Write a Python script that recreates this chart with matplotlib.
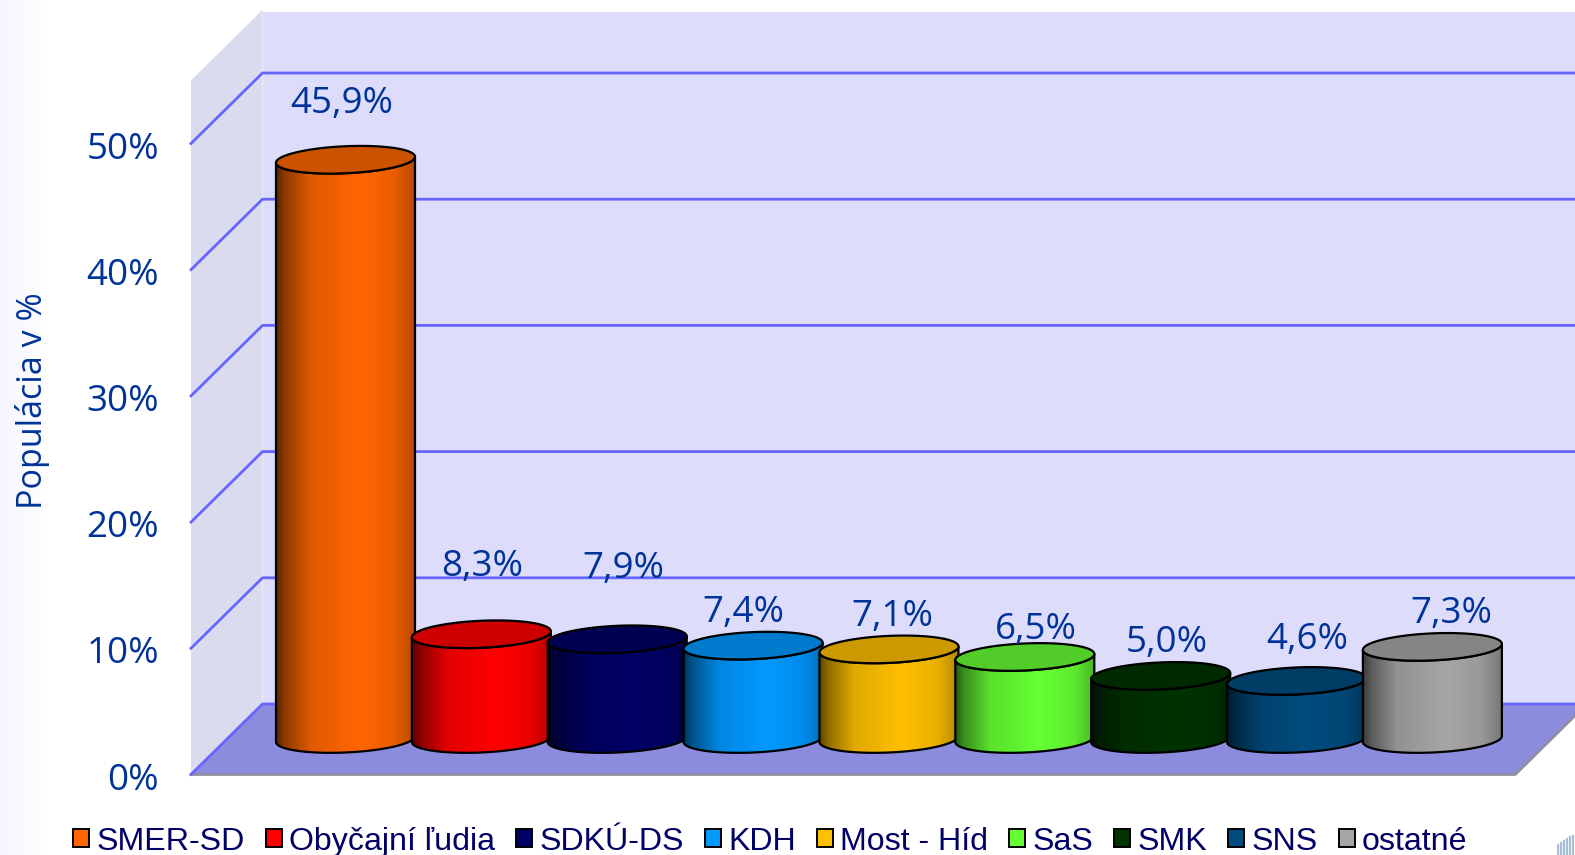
import numpy as np
import matplotlib
matplotlib.use('Agg')
import matplotlib.pyplot as plt
from matplotlib.patches import Patch, Polygon
from matplotlib.colors import to_rgb
from matplotlib.transforms import ScaledTranslation

parties = ['SMER-SD', 'Obyčajní ľudia', 'SDKÚ-DS', 'KDH', 'Most - Híd', 'SaS', 'SMK', 'SNS', 'ostatné']
values = [45.9, 8.3, 7.9, 7.4, 7.1, 6.5, 5.0, 4.6, 7.3]
value_labels = ['45,9%', '8,3%', '7,9%', '7,4%', '7,1%', '6,5%', '5,0%', '4,6%', '7,3%']
colors = ['#FF6600', '#FF0000', '#000066', '#0099FF', '#FFC000', '#66FF33', '#003300', '#004C7F', '#A6A6A6']
y_ticks = [0, 10, 20, 30, 40, 50]
y_tick_labels = ['0%', '10%', '20%', '30%', '40%', '50%']
y_title = 'Populácia v %'

W, H = 1575, 855
DARK_BLUE = '#003399'
GRID = '#6666FF'

# pixel layout of the plot box, figure is 1 data px = 1 real px at dpi 100
left_px, right_px = 191, 1575
zero_px, top_px = 774.5, 12
cat0_px, cat_px = 345.5, 135.86
pct_px = 12.62

fig = plt.figure(figsize=(W / 100, H / 100), dpi=100, facecolor='white')

# faint lavender fade at the left edge
fade = np.ones((H, 50, 3))
fade[:, :, 0] = fade[:, :, 1] = np.linspace(0.962, 1.0, 50)
fig.figimage(fade, 0, 0, zorder=-1)

ax = fig.add_axes([left_px / W, 1 - zero_px / H, (right_px - left_px) / W, (zero_px - top_px) / H])
ax.patch.set_visible(False)
ax.set_xlim((left_px - cat0_px) / cat_px, (right_px - cat0_px) / cat_px)
ax.set_ylim(0, (zero_px - top_px) / pct_px)
for s in ax.spines.values():
    s.set_visible(False)

x0, x1 = ax.get_xlim()
dx = 71.5 / cat_px    # depth of the box
dy = 70.5 / pct_px
wall_top = 55
floor_right = 8.61

ax.add_patch(Polygon([(x0, 0), (x0 + dx, dy), (x0 + dx, wall_top + dy), (x0, wall_top)],
                     fc='#DBDBF0', ec='none', zorder=1, clip_on=False))
ax.add_patch(Polygon([(x0 + dx, dy), (x1, dy), (x1, wall_top + dy), (x0 + dx, wall_top + dy)],
                     fc='#DDDDFB', ec='none', zorder=1))
ax.add_patch(Polygon([(x0, 0), (x0 + dx, dy), (floor_right + dx, dy), (floor_right, 0)],
                     fc='#8C8CDF', ec='none', zorder=2, clip_on=False))
ax.plot([x0, floor_right, floor_right + dx], [0, 0, dy], color='#8F8F9F', lw=2, zorder=2, clip_on=False)

for t in y_ticks:
    ax.plot([x0, x0 + dx, x1], [t, t + dy, t + dy], color=GRID, lw=2, zorder=3, clip_on=False)

ax.set_xticks([])
ax.set_yticks(y_ticks)
ax.set_yticklabels(y_tick_labels, fontsize=26.5, color=DARK_BLUE, family='Open Sans')
ax.tick_params(axis='y', length=0, pad=23)
for lab in ax.get_yticklabels():
    lab.set_transform(lab.get_transform() + ScaledTranslation(0, -1.5 / 100, fig.dpi_scale_trans))
ax.set_ylabel(y_title, fontsize=24.5, color=DARK_BLUE, family='Open Sans', va='center')
ax.yaxis.set_label_coords((33 - left_px) / (right_px - left_px), 0.49)

# cylinders
rx = 69.5 / cat_px
ry = 13.5 / pct_px
tilt = 3.0 / pct_px
base = 35.5 / pct_px
t = np.linspace(0, 2 * np.pi, 200)
ramp_pos = [0, 0.06, 0.25, 0.6, 0.85, 1]
ramp_val = [0.35, 0.55, 0.88, 1, 0.92, 0.72]
u = np.linspace(0, 1, 256)
shade = np.interp(u, ramp_pos, ramp_val)

for i, (v, c) in enumerate(zip(values, colors)):
    rgb = np.array(to_rgb(c))
    z = 10 + i
    yb = base
    yt = base + v
    ex = i + rx * np.cos(t)
    ey = ry * np.sin(t) + tilt * np.cos(t)
    # side outline: lower half of the base, upper edge through the top ellipse
    low = np.sin(t) <= 0
    order = np.argsort(np.cos(t[low]))
    bx, by = ex[low][order], ey[low][order] + yb
    outline = np.r_[np.c_[bx, by], [[i + rx, yt + tilt]], np.c_[bx[::-1], by[::-1] - yb + yt]]
    poly = Polygon(outline, closed=True, fc='none', ec='black', lw=1.6, zorder=z + 0.2)
    ax.add_patch(poly)
    img = ax.imshow((shade[None, :, None] * rgb), extent=(i - rx, i + rx, yb - ry - tilt, yt + ry + tilt),
                    aspect='auto', origin='lower', zorder=z, interpolation='bilinear')
    img.set_clip_path(poly)
    ax.fill(ex, ey + yt, fc=rgb * 0.8, ec='black', lw=1.6, zorder=z + 0.3)

ax.set_xlim(x0, x1)
ax.set_ylim(0, (zero_px - top_px) / pct_px)

# hand-placed value labels, offsets in px from top of each cylinder
label_dx = [-4, 1, 6, -10, 3, 11, 6, 11, 19]
label_dy = [56, 67, 70, 33, 32, 27, 33, 41, 33]
for i, (v, lab) in enumerate(zip(values, value_labels)):
    ax.annotate(lab, (i, base + v), xytext=(label_dx[i], label_dy[i]), textcoords='offset pixels',
                ha='center', va='center', fontsize=26.5, color=DARK_BLUE, family='Open Sans', zorder=30)

handles = [Patch(fc=c, ec='black', lw=1.4) for c in colors]
leg = fig.legend(handles, parties, ncol=9, loc='lower left', bbox_to_anchor=(67 / W, -8 / H),
                 frameon=False, handlelength=0.5, handleheight=0.5,
                 handletextpad=0.22, columnspacing=0.66, labelcolor='#000066',
                 prop={'family': 'Liberation Sans', 'size': 23.1}, borderpad=0.2, borderaxespad=0)

# piece of the slide logo cut by the corner
logo = fig.add_axes([1557 / W, 0, 18 / W, 20 / H])
logo.axis('off')
logo.set_xlim(0, 18)
logo.set_ylim(0, 20)
for k, h in enumerate([10, 12, 14, 16, 18, 19]):
    logo.plot([k * 3 + 1] * 2, [0, h], color='#A9BFD8', lw=1.6)

fig.savefig('out.png', dpi=100)
